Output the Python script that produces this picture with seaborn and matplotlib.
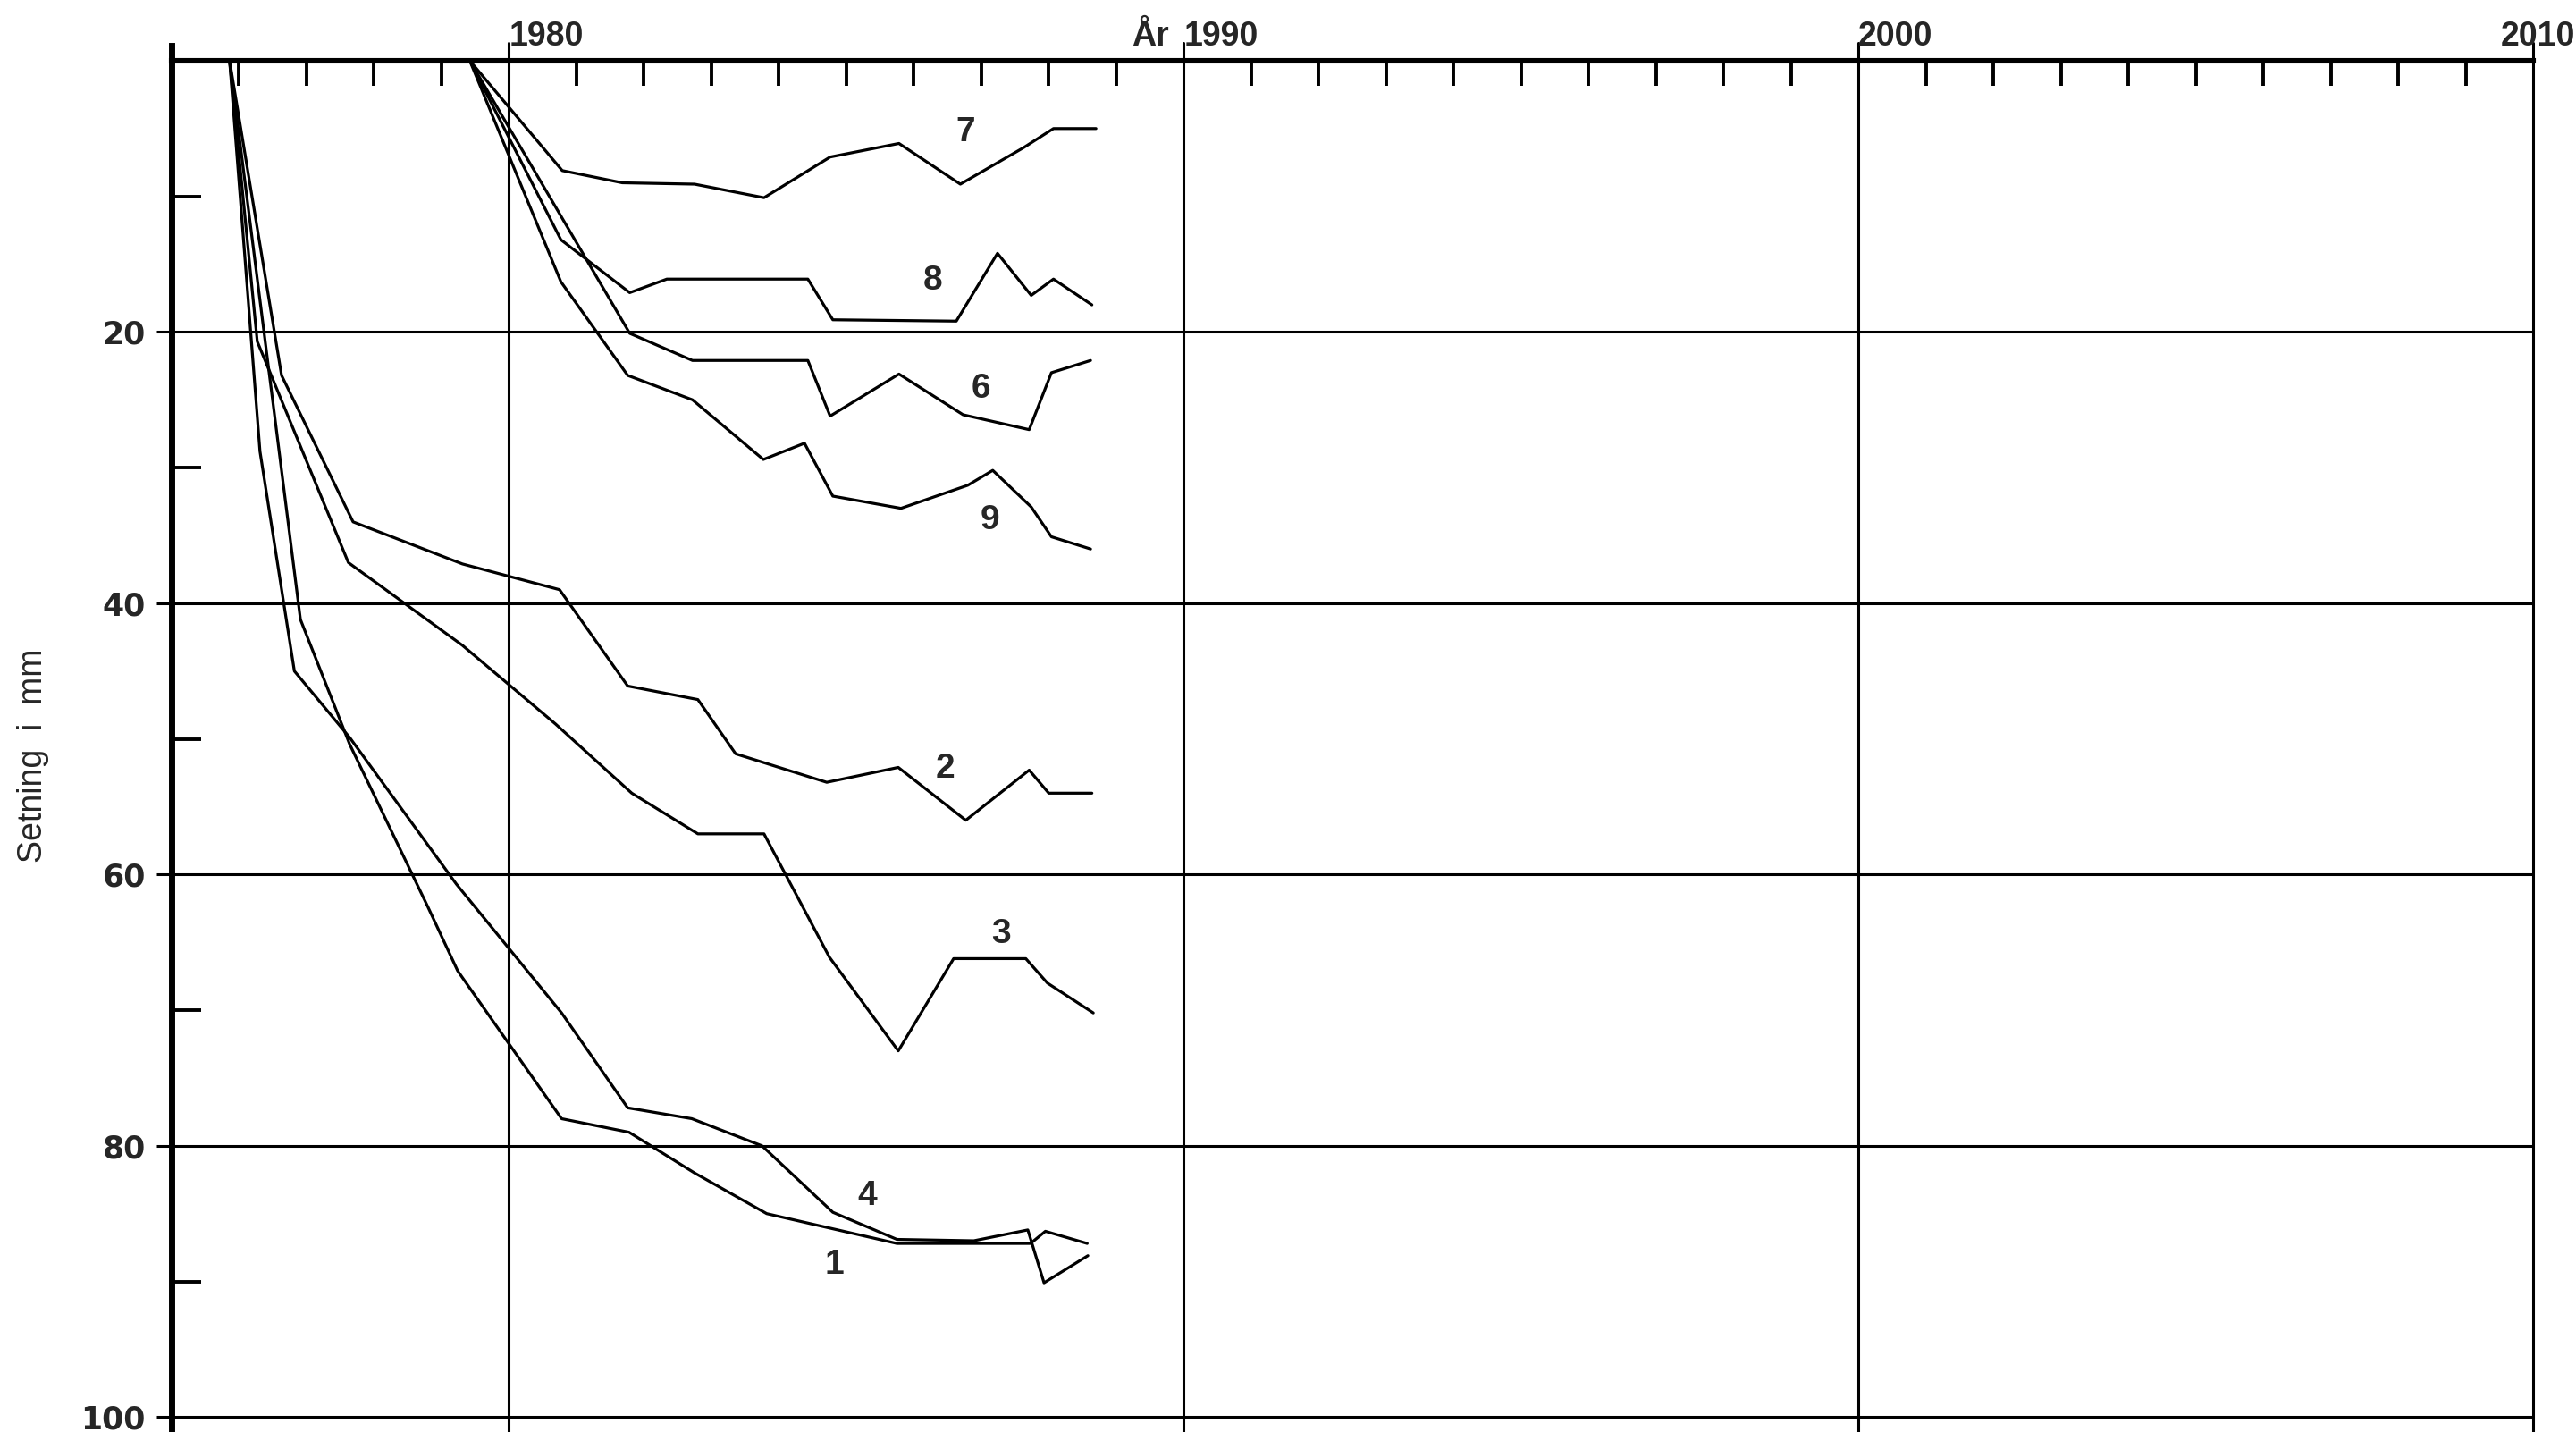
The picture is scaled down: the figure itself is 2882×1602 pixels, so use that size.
import numpy as np
import pandas as pd
import matplotlib
matplotlib.use("Agg")
import matplotlib.pyplot as plt
import seaborn as sns

# settlement readings (year, mm) for each measuring point
years1 = [1975.86, 1976.91, 1977.64, 1978.80, 1979.24, 1980.78, 1981.78, 1982.75, 1983.82, 1985.75, 1987.73, 1987.95, 1988.57]
mm1 = [0, 41.2, 50.4, 62.4, 67.1, 78.0, 79.0, 82.0, 85.0, 87.2, 87.2, 86.3, 87.2]

years2 = [1975.86, 1976.63, 1977.69, 1979.31, 1980.75, 1981.76, 1982.80, 1983.36, 1984.71, 1985.77, 1986.77, 1987.71, 1988.00, 1988.64]
mm2 = [0, 23.2, 34.0, 37.1, 39.0, 46.1, 47.1, 51.1, 53.2, 52.1, 56.0, 52.3, 54.0, 54.0]

years3 = [1975.86, 1976.27, 1977.62, 1979.31, 1980.69, 1981.82, 1982.80, 1983.78, 1984.75, 1985.77, 1986.59, 1987.66, 1987.98, 1988.66]
mm3 = [0, 20.7, 37.0, 43.1, 48.9, 54.0, 57.0, 57.0, 66.1, 73.0, 66.2, 66.2, 68.0, 70.2]

years4 = [1975.86, 1976.31, 1976.82, 1977.64, 1979.22, 1980.78, 1981.76, 1982.71, 1983.75, 1984.80, 1985.75, 1986.89, 1987.69, 1987.93, 1988.58]
mm4 = [0, 28.8, 45.0, 49.9, 60.7, 70.2, 77.2, 78.0, 80.0, 84.9, 86.9, 87.0, 86.2, 90.1, 88.1]

years6 = [1979.42, 1981.79, 1982.72, 1984.43, 1984.76, 1985.78, 1986.73, 1987.71, 1988.04, 1988.62]
mm6 = [0, 20.1, 22.1, 22.1, 26.2, 23.1, 26.1, 27.2, 23.0, 22.1]

years7 = [1979.42, 1980.79, 1981.68, 1982.75, 1983.78, 1984.76, 1985.78, 1986.69, 1987.63, 1988.07, 1988.70]
mm7 = [0, 8.1, 9.0, 9.1, 10.1, 7.1, 6.1, 9.1, 6.4, 5.0, 5.0]

years8 = [1979.42, 1980.77, 1981.79, 1982.34, 1984.43, 1984.80, 1986.63, 1987.24, 1987.74, 1988.07, 1988.64]
mm8 = [0, 13.2, 17.1, 16.1, 16.1, 19.1, 19.2, 14.2, 17.3, 16.1, 18.0]

years9 = [1979.42, 1980.77, 1981.76, 1982.72, 1983.77, 1984.38, 1984.80, 1985.81, 1986.80, 1987.17, 1987.74, 1988.04, 1988.62]
mm9 = [0, 16.3, 23.2, 25.0, 29.4, 28.2, 32.1, 33.0, 31.3, 30.2, 32.9, 35.1, 36.0]

# curve number labels and where they sit
label_names = ["7", "8", "6", "9", "2", "3", "4", "1"]
label_x = [1986.77, 1986.28, 1986.99, 1987.13, 1986.47, 1987.29, 1985.31, 1984.82]
label_y = [5.3, 16.2, 24.2, 33.9, 52.2, 64.4, 83.7, 88.8]

decades = [1980, 1990, 2000, 2010]
decade_labels = ["1980", "1990", "2000", "2010"]
y_major = [20, 40, 60, 80, 100]
y_minor = [10, 30, 50, 70, 90]
ylabel = "Setning  i  mm"

curves = {"1": (years1, mm1), "2": (years2, mm2), "3": (years3, mm3), "4": (years4, mm4),
          "6": (years6, mm6), "7": (years7, mm7), "8": (years8, mm8), "9": (years9, mm9)}
rows = []
for name, (xs, ys) in curves.items():
    for i, (x, y) in enumerate(zip(xs, ys)):
        rows.append({"curve": name, "order": i, "year": x, "mm": y})
df = pd.DataFrame(rows)

sns.set_theme(style="white")
plt.rcParams["font.family"] = ["DejaVu Sans"]
narrow = ["Liberation Sans", "DejaVu Sans"]

fig = plt.figure(figsize=(14.41, 8.01), dpi=200)
ax = fig.add_axes([0.0666, 0.0, 0.9168, 0.9576])

sns.lineplot(data=df, x="year", y="mm", units="curve", estimator=None, sort=False,
             color="black", linewidth=1.15, ax=ax)

ax.set_xlim(1975, 2010)
ax.set_ylim(101.1, 0)

# frame: thick top and left lines only
for side in ["right", "bottom"]:
    ax.spines[side].set_visible(False)
ax.spines["top"].set_linewidth(2.2)
ax.spines["left"].set_linewidth(2.5)
ax.spines["top"].set_color("black")
ax.spines["left"].set_color("black")
ax.spines["left"].set_bounds(101.1, -1.1)

# grid lines
for y in y_major:
    ax.axhline(y, color="black", linewidth=1.1, zorder=1)
for x in decades:
    ax.axvline(x, ymin=0.0, ymax=1.013, color="black", linewidth=1.1, clip_on=False, zorder=1)

# x ticks on top: one per year, decades carry the labels
ax.xaxis.tick_top()
ax.set_xticks(decades)
ax.set_xticklabels([])
ax.set_xticks([x for x in np.arange(1976, 2010) if x % 10 != 0], minor=True)
ax.tick_params(axis="x", which="major", length=0)
ax.tick_params(axis="x", which="minor", direction="in", length=10, width=1.4, color="black", top=True, bottom=False)

xtr = ax.get_xaxis_transform()
for x, lab in zip(decades, decade_labels):
    if x == 2010:
        ax.text(2010.62, 1.011, lab, transform=xtr, ha="right", va="baseline",
                fontsize=13.5, fontweight="bold", family=narrow)
    else:
        ax.text(x, 1.011, lab, transform=xtr, ha="left", va="baseline",
                fontsize=13.5, fontweight="bold", family=narrow)
ax.text(1989.78, 1.011, "År", transform=xtr, ha="right", va="baseline",
        fontsize=13.5, fontweight="bold", family=narrow)

# y ticks
ax.set_yticks(y_major)
ax.set_yticks(y_minor, minor=True)
ax.set_yticklabels([str(v) for v in y_major], fontsize=12.5, fontweight="bold")
ax.tick_params(axis="y", which="major", direction="out", length=6, width=1.1, pad=4.5, left=True, color="black")
ax.tick_params(axis="y", which="minor", direction="in", length=12, width=1.4, left=True, color="black")

ax.set_xlabel("")
ax.set_ylabel(ylabel, fontsize=13.5, family=narrow)
ax.yaxis.set_label_coords(-0.052, 0.493)

for name, x, y in zip(label_names, label_x, label_y):
    ax.text(x, y, name, ha="center", va="center", fontsize=14, fontweight="bold", family=narrow)

ax.grid(False)
fig.savefig("out.png", dpi=200, facecolor="white")
